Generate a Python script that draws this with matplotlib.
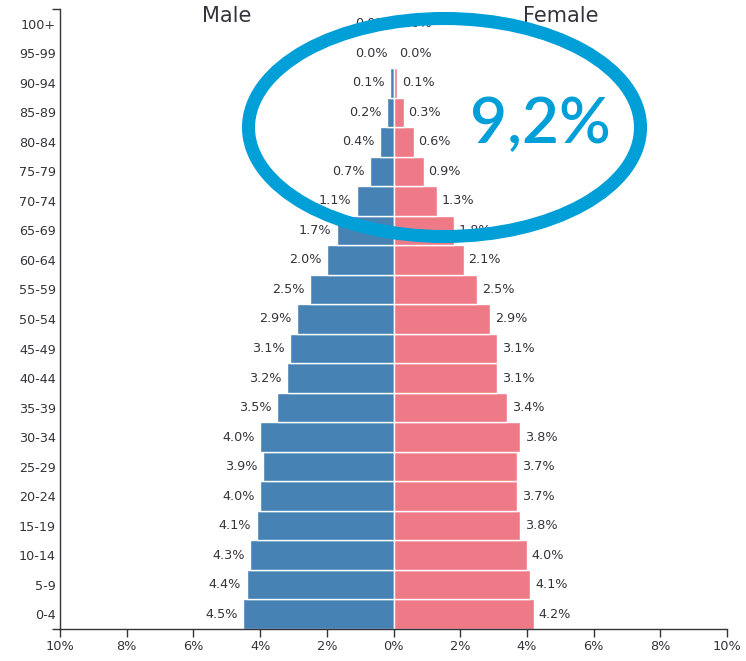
import matplotlib
matplotlib.use("Agg")
import matplotlib.pyplot as plt
from matplotlib.patches import Ellipse
import numpy as np

age_groups = ["0-4", "5-9", "10-14", "15-19", "20-24", "25-29", "30-34", "35-39",
              "40-44", "45-49", "50-54", "55-59", "60-64", "65-69", "70-74", "75-79",
              "80-84", "85-89", "90-94", "95-99", "100+"]
male = [4.5, 4.4, 4.3, 4.1, 4.0, 3.9, 4.0, 3.5, 3.2, 3.1, 2.9, 2.5, 2.0, 1.7, 1.1, 0.7,
        0.4, 0.2, 0.1, 0.02, 0.0]
female = [4.2, 4.1, 4.0, 3.8, 3.7, 3.7, 3.8, 3.4, 3.1, 3.1, 2.9, 2.5, 2.1, 1.8, 1.3, 0.9,
          0.6, 0.3, 0.1, 0.03, 0.01]
x_ticks = [-10, -8, -6, -4, -2, 0, 2, 4, 6, 8, 10]
highlight_text = "9,2%"

MALE_C = "#4682b4"
FEMALE_C = "#ef7a87"
TXT = "#33333b"
BLUE = "#009fd8"

fig = plt.figure(figsize=(7.46, 6.61), dpi=100)
ax = fig.add_axes([60 / 746, 1 - 629 / 661, (727 - 60) / 746, (629 - 9) / 661])

y = np.arange(len(age_groups))
m = np.array(male)
f = np.array(female)
ax.barh(y, -m, height=1.0, color=MALE_C, edgecolor="white", linewidth=1)
ax.barh(y, f, height=1.0, color=FEMALE_C, edgecolor="white", linewidth=1)

for yi, mv, fv in zip(y, m, f):
    ax.annotate(f"{mv:.1f}%", (-mv, yi), xytext=(-4, 0), textcoords="offset points",
                ha="right", va="center", fontsize=9.2, color=TXT)
    ax.annotate(f"{fv:.1f}%", (fv, yi), xytext=(3.5, 0), textcoords="offset points",
                ha="left", va="center", fontsize=9.2, color=TXT)

ax.set_xlim(-10, 10)
ax.set_ylim(-0.5, len(age_groups) - 0.5)
ax.set_xticks(x_ticks)
ax.set_xticklabels([f"{abs(t)}%" for t in x_ticks], fontsize=9.3, color=TXT)
ax.set_yticks(y)
ax.set_yticklabels(age_groups, fontsize=9.2, color=TXT)
ax.tick_params(axis="y", length=0, pad=3)
ax.tick_params(axis="x", length=6, width=1, color=TXT, pad=2)
ax.set_yticks([-0.5, len(age_groups) - 0.5], minor=True)
ax.tick_params(axis="y", which="minor", length=6, width=1, color=TXT)
for s in ["top", "right"]:
    ax.spines[s].set_visible(False)
for s in ["left", "bottom"]:
    ax.spines[s].set_color(TXT)
    ax.spines[s].set_linewidth(1)

ax.text(-5, 20.25, "Male", ha="center", va="center", fontsize=15, color=TXT)
ax.text(5, 20.25, "Female", ha="center", va="center", fontsize=15, color=TXT)

ell = Ellipse((444.5 / 746, 1 - 127.5 / 661), 392 / 746, 218 / 661,
              transform=fig.transFigure, fill=False, edgecolor=BLUE, linewidth=9.4,
              zorder=10)
fig.patches.append(ell)
fig.text(540 / 746, 1 - 143 / 661, highlight_text, ha="center", va="baseline",
         fontsize=46, color=BLUE, family=["Lato", "DejaVu Sans"], weight="semibold",
         zorder=11)

fig.savefig("out.png", dpi=100)
